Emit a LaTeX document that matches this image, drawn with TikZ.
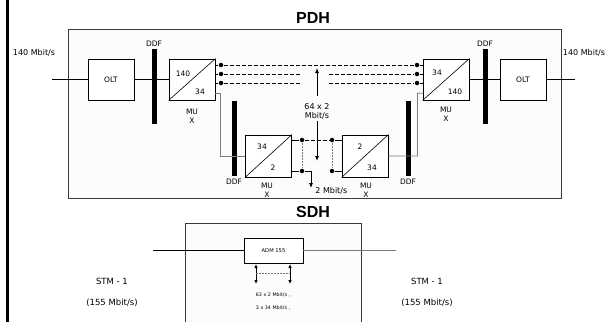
\documentclass[tikz,border=0pt]{standalone}
\usepackage{fontspec}
\setmainfont{DejaVu Sans}
\newfontfamily\headfont{Liberation Sans}
\usetikzlibrary{calc,positioning,arrows.meta}
\definecolor{netframe}{HTML}{3A3A3A}
\definecolor{netfill}{HTML}{FCFCFC}
\definecolor{netgray}{HTML}{7A7A7A}

\tikzset{
  unit/.style={draw, minimum width=46pt, minimum height=41pt, inner sep=0pt,
    font=\fontsize{7.5}{9}\selectfont},
  ddfbar/.style={fill=black, inner sep=0pt, minimum width=5pt, minimum height=75pt},
  dot/.style={circle, fill=black, inner sep=0pt, minimum size=4.5pt},
  tag/.style={font=\fontsize{7.5}{9}\selectfont, inner sep=1pt, align=center},
  head/.style={font=\headfont\bfseries\fontsize{16}{18}\selectfont},
  tip/.style={-{Latex[length=5pt,width=4pt]}},
  dtip/.style={{Latex[length=4pt,width=3.5pt]}-{Latex[length=4pt,width=3.5pt]}},
  link/.style={dash pattern=on 4pt off 2pt, line width=0.6pt},
  thinlink/.style={netgray, dash pattern=on 2pt off 1pt, line width=0.4pt},
}

\begin{document}
\begin{tikzpicture}[x=1pt, y=-1pt, line width=0.8pt]
  \useasboundingbox (0,0) rectangle (613,322);
  \draw[line width=2.5pt] (7.5,0) -- (7.5,322);

  % PDH
  \node[head] (pdh) at (313,18) {PDH};
  \draw[netframe, fill=netfill] (68,29) rectangle (561,198);

  \node[ddfbar] (ddf1) at (154,86.5) {};
  \node[ddfbar] (ddf4) at (485,86.5) {};
  \node[ddfbar] (ddf2) at (234,138.5) {};
  \node[ddfbar] (ddf3) at (408,138.5) {};
  \node[tag, above=1pt of ddf1] (ddf1 lbl) {DDF};
  \node[tag, above=1pt of ddf4] (ddf4 lbl) {DDF};
  \node[tag, below=1pt of ddf2] (ddf2 lbl) {DDF};
  \node[tag, below=1pt of ddf3] (ddf3 lbl) {DDF};

  \node[unit, fill=white] (olt1) at (111,79.5) {OLT};
  \node[unit, fill=white] (mux1) at (192,79.5) {};
  \node[unit, fill=white] (mux4) at (446,79.5) {};
  \node[unit, fill=white] (olt2) at (523,79.5) {OLT};
  \node[unit, fill=white, minimum height=42pt] (mux2) at (268.5,156) {};
  \node[unit, fill=white, minimum height=42pt] (mux3) at (365,156) {};
  \foreach \m in {mux1,mux2,mux3,mux4}
    \draw[line width=0.6pt] (\m.south west) -- (\m.north east);

  \node[tag] (mux1 hi) at (183,74) {140};
  \node[tag] (mux1 lo) at (200,92) {34};
  \node[tag] (mux4 hi) at (437,73) {34};
  \node[tag] (mux4 lo) at (455,92) {140};
  \node[tag] (mux2 hi) at (262,147) {34};
  \node[tag] (mux2 lo) at (273,168) {2};
  \node[tag] (mux3 hi) at (360,147) {2};
  \node[tag] (mux3 lo) at (372,168) {34};
  \node[tag] (mux1 name) at (192,116) {MU\\X};
  \node[tag] (mux4 name) at (446,114) {MU\\X};
  \node[tag] (mux2 name) at (267,190.5) {MU\\X};
  \node[tag] (mux3 name) at (366,190.5) {MU\\X};

  % main line
  \node[tag, font=\fontsize{8}{9}\selectfont] (in rate) at (34,53) {140 Mbit/s};
  \node[tag, font=\fontsize{8}{9}\selectfont] (out rate) at (584,53) {140 Mbit/s};
  \coordinate (in) at (52,79.5);
  \coordinate (out) at (575,79.5);
  \draw (in) -- (olt1.west);
  \draw (olt1) -- (mux1);
  \draw (mux4) -- (olt2);
  \draw (olt2.east) -- (out);

  % 2 Mbit/s tributaries
  \foreach \y/\n in {65/a,74/b,83/c} {
    \node[dot] (l\n) at (221,\y) {};
    \node[dot] (r\n) at (417,\y) {};
    \draw (l\n -| mux1.east) -- (l\n);
    \draw (r\n) -- (r\n -| mux4.west);
  }
  \coordinate (gl) at (300,0);
  \coordinate (gr) at (329,0);
  \draw[link] (la) -- (ra);
  \draw[link] (lb) -- (lb -| gl) (lb -| gr) -- (rb);
  \draw[link] (lc) -- (lc -| gl) (lc -| gr) -- (rc);

  \node[tag, font=\fontsize{8}{9.5}\selectfont] (rate) at (317,111.5) {64 x 2\\Mbit/s};
  \coordinate (up) at (317,68);
  \coordinate (dn) at (317,161);
  \draw[tip] ([yshift=6pt]rate.north) -- (up);
  \draw[tip] (rate.south) -- (dn);

  % 34 Mbit/s side branch
  \draw[netgray] ([yshift=7pt]mux1.south east) -- ++(5,0) |- (mux2.west);
  \draw[netgray] (mux3.east) -| ++(29,-63) -- ([yshift=7pt]mux4.south west);

  \node[dot] (p1) at (302,140) {};
  \node[dot] (p2) at (302,171) {};
  \node[dot] (q1) at (332,140) {};
  \node[dot] (q2) at (332,171) {};
  \draw (p1 -| mux2.east) -- (p1);
  \draw (p2 -| mux2.east) -- (p2);
  \draw (q1) -- (q1 -| mux3.west);
  \draw (q2) -- (q2 -| mux3.west);
  \draw[link] (p1) -- (q1);
  \draw[thinlink] (p1) -- (p2) (q1) -- (q2);
  \coordinate (drop) at (311,188);
  \draw[tip] (p2) -| (drop);
  \node[tag, anchor=west, font=\fontsize{8}{9}\selectfont] (drop lbl) at (314,191) {2 Mbit/s};

  % SDH
  \node[head] (sdh) at (313,212) {SDH};
  \draw[netframe, fill=netfill] (185,322) -- (185,223) -- (361,223) -- (361,322);

  \node[draw, fill=white, minimum width=59pt, minimum height=25pt, inner sep=0pt,
    font=\fontsize{5.2}{6}\selectfont] (adm) at (273.5,250.5) {ADM 155};
  \coordinate (stm in) at (153,250.5);
  \coordinate (stm out) at (396,250.5);
  \draw (stm in) -- (adm.west);
  \draw[netgray] (adm.east) -- (stm out);

  \coordinate (t1) at (256,264);
  \coordinate (t2) at (256,284);
  \coordinate (u1) at (290,264);
  \coordinate (u2) at (290,284);
  \draw[dtip] (t1) -- (t2);
  \draw[dtip] (u1) -- (u2);
  \draw[thinlink] ($(t1)!0.45!(t2)$) -- ($(u1)!0.45!(u2)$);

  \node[tag, font=\fontsize{4.8}{6}\selectfont] (mix a) at (273,295) {63 x 2 Mbit/s ,};
  \node[tag, font=\fontsize{4.8}{6}\selectfont] (mix b) at (273,308) {3 x 34 Mbit/s ,};

  \node[tag, font=\fontsize{8.5}{21}\selectfont] (stm left) at (112,292.5) {STM - 1\\(155 Mbit/s)};
  \node[tag, font=\fontsize{8.5}{21}\selectfont] (stm right) at (427,292.5) {STM - 1\\(155 Mbit/s)};
\end{tikzpicture}
\end{document}
